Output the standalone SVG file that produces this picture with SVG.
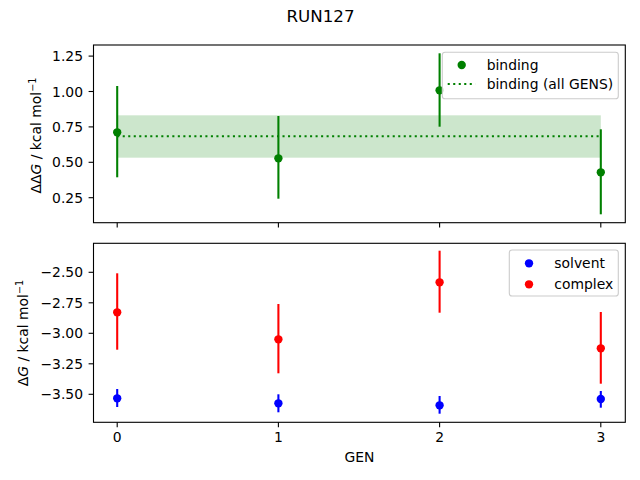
<svg xmlns="http://www.w3.org/2000/svg" width="640" height="480" viewBox="0 0 640 480">
<style>
text{font-family:"DejaVu Sans","Liberation Sans",sans-serif;font-size:13.9px;fill:#000}
.spine{fill:none;stroke:#000;stroke-width:1.1}
.tick{stroke:#000;stroke-width:1.1}
.yt{text-anchor:end}
.xt{text-anchor:middle}
.eg{stroke:#008000;stroke-width:2.08}
.er{stroke:#ff0000;stroke-width:2.08}
.eb{stroke:#0000ff;stroke-width:2.08}
.leg{fill:#fff;fill-opacity:0.8;stroke:#cccccc;stroke-width:1.1}
.dot{stroke:#008000;stroke-width:2.08;stroke-dasharray:2.08 3.43;fill:none}
</style>
<rect width="640" height="480" fill="#fff"/>
<text x="320.5" y="22" text-anchor="middle" style="font-size:16.7px">RUN127</text>

<g id="top-axes">
<rect x="117.2" y="115.3" width="483.6" height="42.4" fill="#008000" fill-opacity="0.2"/>
<line class="dot" x1="117.2" y1="136.3" x2="600.8" y2="136.3"/>
<g id="binding">
<line class="eg" x1="117.2" y1="86" x2="117.2" y2="177.3"/><circle cx="117.2" cy="132.3" r="4.17" fill="#008000"/>
<line class="eg" x1="278.4" y1="116" x2="278.4" y2="198.7"/><circle cx="278.4" cy="158.3" r="4.17" fill="#008000"/>
<line class="eg" x1="439.6" y1="53.3" x2="439.6" y2="126.7"/><circle cx="439.6" cy="90.3" r="4.17" fill="#008000"/>
<line class="eg" x1="600.8" y1="129.3" x2="600.8" y2="214.3"/><circle cx="600.8" cy="172.3" r="4.17" fill="#008000"/>
</g>
<rect class="spine" x="93.5" y="45" width="531.8" height="177.7"/>
<g class="tick">
<line x1="88.6" y1="56.1" x2="93.5" y2="56.1"/><line x1="88.6" y1="91.5" x2="93.5" y2="91.5"/><line x1="88.6" y1="126.9" x2="93.5" y2="126.9"/><line x1="88.6" y1="162.3" x2="93.5" y2="162.3"/><line x1="88.6" y1="197.7" x2="93.5" y2="197.7"/>
<line x1="117.2" y1="222.7" x2="117.2" y2="227.6"/><line x1="278.4" y1="222.7" x2="278.4" y2="227.6"/><line x1="439.6" y1="222.7" x2="439.6" y2="227.6"/><line x1="600.8" y1="222.7" x2="600.8" y2="227.6"/>
</g>
<text class="yt" x="83" y="61.1">1.25</text>
<text class="yt" x="83" y="96.5">1.00</text>
<text class="yt" x="83" y="131.9">0.75</text>
<text class="yt" x="83" y="167.3">0.50</text>
<text class="yt" x="83" y="202.7">0.25</text>
<text transform="translate(41,135.5) rotate(-90)" text-anchor="middle">ΔΔ<tspan font-style="italic">G</tspan> / kcal mol<tspan dy="-5.5" style="font-size:9.7px">−1</tspan></text>
<g id="legend-top">
<rect class="leg" x="442.3" y="52.3" width="176" height="46.4" rx="2.8"/>
<circle cx="461.7" cy="65" r="4.17" fill="#008000"/>
<text x="486.7" y="70">binding</text>
<line class="dot" x1="447.7" y1="84" x2="475.3" y2="84"/>
<text x="486.7" y="89">binding (all GENS)</text>
</g>
</g>

<g id="bottom-axes">
<g id="solvent">
<line class="eb" x1="117.2" y1="389" x2="117.2" y2="407"/><circle cx="117.2" cy="398.3" r="4.17" fill="#0000ff"/>
<line class="eb" x1="278.4" y1="394.3" x2="278.4" y2="412.3"/><circle cx="278.4" cy="403.3" r="4.17" fill="#0000ff"/>
<line class="eb" x1="439.6" y1="396" x2="439.6" y2="413.7"/><circle cx="439.6" cy="405.3" r="4.17" fill="#0000ff"/>
<line class="eb" x1="600.8" y1="391" x2="600.8" y2="407.7"/><circle cx="600.8" cy="399" r="4.17" fill="#0000ff"/>
</g>
<g id="complex">
<line class="er" x1="117.2" y1="273.3" x2="117.2" y2="349.7"/><circle cx="117.2" cy="312.3" r="4.17" fill="#ff0000"/>
<line class="er" x1="278.4" y1="304" x2="278.4" y2="373.3"/><circle cx="278.4" cy="339.3" r="4.17" fill="#ff0000"/>
<line class="er" x1="439.6" y1="250.7" x2="439.6" y2="312.7"/><circle cx="439.6" cy="282.3" r="4.17" fill="#ff0000"/>
<line class="er" x1="600.8" y1="312" x2="600.8" y2="383.7"/><circle cx="600.8" cy="348.3" r="4.17" fill="#ff0000"/>
</g>
<rect class="spine" x="93.5" y="243.3" width="531.8" height="179"/>
<g class="tick">
<line x1="88.6" y1="272.3" x2="93.5" y2="272.3"/><line x1="88.6" y1="302.8" x2="93.5" y2="302.8"/><line x1="88.6" y1="333.3" x2="93.5" y2="333.3"/><line x1="88.6" y1="363.8" x2="93.5" y2="363.8"/><line x1="88.6" y1="394.3" x2="93.5" y2="394.3"/>
<line x1="117.2" y1="422.3" x2="117.2" y2="427.2"/><line x1="278.4" y1="422.3" x2="278.4" y2="427.2"/><line x1="439.6" y1="422.3" x2="439.6" y2="427.2"/><line x1="600.8" y1="422.3" x2="600.8" y2="427.2"/>
</g>
<text class="yt" x="83" y="277.3">−2.50</text>
<text class="yt" x="83" y="307.8">−2.75</text>
<text class="yt" x="83" y="338.3">−3.00</text>
<text class="yt" x="83" y="368.8">−3.25</text>
<text class="yt" x="83" y="399.3">−3.50</text>
<text class="xt" x="117.2" y="441.6">0</text>
<text class="xt" x="278.4" y="441.6">1</text>
<text class="xt" x="439.6" y="441.6">2</text>
<text class="xt" x="600.8" y="441.6">3</text>
<text x="359.4" y="462.2" text-anchor="middle">GEN</text>
<text transform="translate(28,333) rotate(-90)" text-anchor="middle">Δ<tspan font-style="italic">G</tspan> / kcal mol<tspan dy="-5.5" style="font-size:9.7px">−1</tspan></text>
<g id="legend-bottom">
<rect class="leg" x="509.3" y="250" width="109" height="46" rx="2.8"/>
<circle cx="529" cy="263.3" r="4.17" fill="#0000ff"/>
<text x="554.3" y="268.3">solvent</text>
<circle cx="529" cy="284.3" r="4.17" fill="#ff0000"/>
<text x="554.3" y="289.3">complex</text>
</g>
</g>
</svg>
